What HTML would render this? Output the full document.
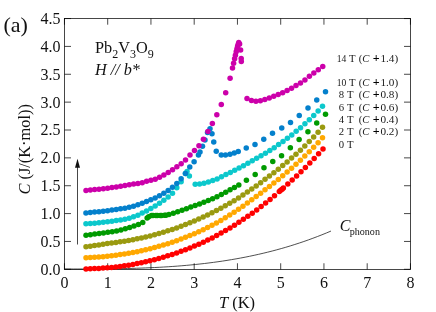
<!DOCTYPE html>
<html><head><meta charset="utf-8"><title>Pb2V3O9 specific heat</title>
<style>html,body{margin:0;padding:0;background:#fff;width:436px;height:312px;overflow:hidden;font-family:"Liberation Serif",serif}</style></head>
<body>
<svg width="436" height="312" viewBox="0 0 436 312" style="position:absolute;left:0;top:0">
<rect width="436" height="312" fill="#fff"/>
<polyline points="64.30,269.00 68.82,269.00 73.34,269.00 77.86,269.00 82.38,268.99 86.90,268.98 91.42,268.96 95.94,268.94 100.46,268.91 104.98,268.87 109.50,268.82 114.02,268.75 118.54,268.68 123.06,268.59 127.58,268.49 132.10,268.38 136.62,268.24 141.14,268.09 145.66,267.92 150.18,267.73 154.70,267.52 159.22,267.29 163.74,267.03 168.26,266.75 172.78,266.45 177.30,266.11 181.82,265.75 186.34,265.36 190.86,264.94 195.38,264.49 199.90,264.01 204.42,263.50 208.94,262.95 213.46,262.36 217.98,261.74 222.50,261.08 227.02,260.38 231.54,259.64 236.06,258.86 240.58,258.04 245.10,257.18 249.62,256.27 254.14,255.31 258.65,254.31 263.17,253.26 267.69,252.17 272.21,251.02 276.73,249.82 281.25,248.57 285.77,247.27 290.29,245.91 294.81,244.49 299.33,243.02 303.85,241.50 308.37,239.91 312.89,238.26 317.41,236.56 321.93,234.79 326.45,232.96 330.97,231.06" fill="none" stroke="#222" stroke-width="0.8"/>
<g stroke="#000" stroke-width="0.72" fill="none">
<rect x="64.5" y="18.5" width="346.0" height="250.95"/>
<line x1="64.45" y1="269.45" x2="64.45" y2="263.25"/>
<line x1="64.45" y1="18.5" x2="64.45" y2="24.7"/>
<line x1="107.70" y1="269.45" x2="107.70" y2="263.25"/>
<line x1="107.70" y1="18.5" x2="107.70" y2="24.7"/>
<line x1="150.95" y1="269.45" x2="150.95" y2="263.25"/>
<line x1="150.95" y1="18.5" x2="150.95" y2="24.7"/>
<line x1="194.20" y1="269.45" x2="194.20" y2="263.25"/>
<line x1="194.20" y1="18.5" x2="194.20" y2="24.7"/>
<line x1="237.45" y1="269.45" x2="237.45" y2="263.25"/>
<line x1="237.45" y1="18.5" x2="237.45" y2="24.7"/>
<line x1="280.70" y1="269.45" x2="280.70" y2="263.25"/>
<line x1="280.70" y1="18.5" x2="280.70" y2="24.7"/>
<line x1="323.95" y1="269.45" x2="323.95" y2="263.25"/>
<line x1="323.95" y1="18.5" x2="323.95" y2="24.7"/>
<line x1="367.20" y1="269.45" x2="367.20" y2="263.25"/>
<line x1="367.20" y1="18.5" x2="367.20" y2="24.7"/>
<line x1="410.45" y1="269.45" x2="410.45" y2="263.25"/>
<line x1="410.45" y1="18.5" x2="410.45" y2="24.7"/>
<line x1="64.5" y1="269.30" x2="71.0" y2="269.30"/>
<line x1="410.5" y1="269.30" x2="404.0" y2="269.30"/>
<line x1="64.5" y1="241.44" x2="71.0" y2="241.44"/>
<line x1="410.5" y1="241.44" x2="404.0" y2="241.44"/>
<line x1="64.5" y1="213.58" x2="71.0" y2="213.58"/>
<line x1="410.5" y1="213.58" x2="404.0" y2="213.58"/>
<line x1="64.5" y1="185.72" x2="71.0" y2="185.72"/>
<line x1="410.5" y1="185.72" x2="404.0" y2="185.72"/>
<line x1="64.5" y1="157.86" x2="71.0" y2="157.86"/>
<line x1="410.5" y1="157.86" x2="404.0" y2="157.86"/>
<line x1="64.5" y1="130.00" x2="71.0" y2="130.00"/>
<line x1="410.5" y1="130.00" x2="404.0" y2="130.00"/>
<line x1="64.5" y1="102.14" x2="71.0" y2="102.14"/>
<line x1="410.5" y1="102.14" x2="404.0" y2="102.14"/>
<line x1="64.5" y1="74.28" x2="71.0" y2="74.28"/>
<line x1="410.5" y1="74.28" x2="404.0" y2="74.28"/>
<line x1="64.5" y1="46.42" x2="71.0" y2="46.42"/>
<line x1="410.5" y1="46.42" x2="404.0" y2="46.42"/>
<line x1="64.5" y1="18.56" x2="71.0" y2="18.56"/>
<line x1="410.5" y1="18.56" x2="404.0" y2="18.56"/>
<line x1="77.5" y1="244.5" x2="77.5" y2="166"/>
</g>
<path d="M77.5 158.8 L80 167.8 L75 167.8 Z" fill="#111"/>
<g fill="#ff0000">
<circle cx="86.00" cy="268.93" r="2.75"/>
<circle cx="90.26" cy="268.79" r="2.75"/>
<circle cx="94.52" cy="268.61" r="2.75"/>
<circle cx="98.78" cy="268.38" r="2.75"/>
<circle cx="103.04" cy="268.10" r="2.75"/>
<circle cx="107.30" cy="267.77" r="2.75"/>
<circle cx="111.56" cy="267.39" r="2.75"/>
<circle cx="115.82" cy="266.95" r="2.75"/>
<circle cx="120.08" cy="266.46" r="2.75"/>
<circle cx="124.34" cy="265.84" r="2.75"/>
<circle cx="128.60" cy="265.14" r="2.75"/>
<circle cx="132.86" cy="264.38" r="2.75"/>
<circle cx="137.12" cy="263.57" r="2.75"/>
<circle cx="141.38" cy="262.69" r="2.75"/>
<circle cx="145.64" cy="261.75" r="2.75"/>
<circle cx="149.90" cy="260.75" r="2.75"/>
<circle cx="154.35" cy="259.63" r="2.75"/>
<circle cx="158.80" cy="258.44" r="2.75"/>
<circle cx="163.25" cy="257.18" r="2.75"/>
<circle cx="167.70" cy="255.84" r="2.75"/>
<circle cx="172.15" cy="254.42" r="2.75"/>
<circle cx="176.60" cy="252.92" r="2.75"/>
<circle cx="181.05" cy="251.35" r="2.75"/>
<circle cx="185.50" cy="249.69" r="2.75"/>
<circle cx="189.95" cy="247.94" r="2.75"/>
<circle cx="194.40" cy="246.12" r="2.75"/>
<circle cx="198.85" cy="244.20" r="2.75"/>
<circle cx="203.30" cy="242.20" r="2.75"/>
<circle cx="207.75" cy="240.10" r="2.75"/>
<circle cx="212.20" cy="237.90" r="2.75"/>
<circle cx="216.65" cy="235.55" r="2.75"/>
<circle cx="221.10" cy="233.10" r="2.75"/>
<circle cx="225.55" cy="230.55" r="2.75"/>
<circle cx="230.00" cy="227.90" r="2.75"/>
<circle cx="234.45" cy="225.16" r="2.75"/>
<circle cx="238.90" cy="222.31" r="2.75"/>
<circle cx="243.35" cy="219.36" r="2.75"/>
<circle cx="247.80" cy="216.31" r="2.75"/>
<circle cx="252.25" cy="213.15" r="2.75"/>
<circle cx="256.70" cy="209.89" r="2.75"/>
<circle cx="261.15" cy="206.51" r="2.75"/>
<circle cx="265.60" cy="203.03" r="2.75"/>
<circle cx="270.05" cy="199.43" r="2.75"/>
<circle cx="274.50" cy="195.72" r="2.75"/>
<circle cx="279.30" cy="191.59" r="2.75"/>
<circle cx="280.70" cy="190.37" r="2.75"/>
<circle cx="282.10" cy="189.15" r="2.75"/>
<circle cx="283.40" cy="188.01" r="2.75"/>
<circle cx="287.80" cy="184.07" r="2.75"/>
<circle cx="292.20" cy="180.09" r="2.75"/>
<circle cx="296.60" cy="176.01" r="2.75"/>
<circle cx="301.00" cy="171.82" r="2.75"/>
<circle cx="305.40" cy="167.50" r="2.75"/>
<circle cx="309.80" cy="163.07" r="2.75"/>
<circle cx="314.20" cy="158.50" r="2.75"/>
<circle cx="318.60" cy="153.82" r="2.75"/>
<circle cx="323.00" cy="148.93" r="2.75"/>
</g>
<g fill="#ffa800">
<circle cx="86.00" cy="257.85" r="2.75"/>
<circle cx="90.26" cy="257.62" r="2.75"/>
<circle cx="94.53" cy="257.34" r="2.75"/>
<circle cx="98.79" cy="257.01" r="2.75"/>
<circle cx="103.06" cy="256.64" r="2.75"/>
<circle cx="107.32" cy="256.21" r="2.75"/>
<circle cx="111.59" cy="255.73" r="2.75"/>
<circle cx="115.85" cy="255.20" r="2.75"/>
<circle cx="120.11" cy="254.62" r="2.75"/>
<circle cx="124.38" cy="253.98" r="2.75"/>
<circle cx="128.64" cy="253.28" r="2.75"/>
<circle cx="132.91" cy="252.49" r="2.75"/>
<circle cx="137.17" cy="251.65" r="2.75"/>
<circle cx="141.44" cy="250.73" r="2.75"/>
<circle cx="145.70" cy="249.76" r="2.75"/>
<circle cx="150.12" cy="248.68" r="2.75"/>
<circle cx="154.54" cy="247.54" r="2.75"/>
<circle cx="158.96" cy="246.32" r="2.75"/>
<circle cx="163.38" cy="245.02" r="2.75"/>
<circle cx="167.80" cy="243.65" r="2.75"/>
<circle cx="172.22" cy="242.21" r="2.75"/>
<circle cx="176.64" cy="240.68" r="2.75"/>
<circle cx="181.06" cy="239.07" r="2.75"/>
<circle cx="185.48" cy="237.37" r="2.75"/>
<circle cx="189.90" cy="235.58" r="2.75"/>
<circle cx="194.32" cy="233.70" r="2.75"/>
<circle cx="198.74" cy="231.75" r="2.75"/>
<circle cx="203.16" cy="229.70" r="2.75"/>
<circle cx="207.58" cy="227.55" r="2.75"/>
<circle cx="212.00" cy="225.27" r="2.75"/>
<circle cx="216.42" cy="222.89" r="2.75"/>
<circle cx="220.84" cy="220.38" r="2.75"/>
<circle cx="225.26" cy="217.75" r="2.75"/>
<circle cx="229.68" cy="215.01" r="2.75"/>
<circle cx="234.10" cy="212.16" r="2.75"/>
<circle cx="238.52" cy="209.20" r="2.75"/>
<circle cx="242.94" cy="206.15" r="2.75"/>
<circle cx="247.36" cy="203.02" r="2.75"/>
<circle cx="251.78" cy="199.81" r="2.75"/>
<circle cx="256.20" cy="196.55" r="2.75"/>
<circle cx="260.62" cy="193.22" r="2.75"/>
<circle cx="265.04" cy="189.85" r="2.75"/>
<circle cx="269.46" cy="186.42" r="2.75"/>
<circle cx="273.88" cy="182.93" r="2.75"/>
<circle cx="278.30" cy="179.38" r="2.75"/>
<circle cx="282.72" cy="175.74" r="2.75"/>
<circle cx="287.14" cy="172.01" r="2.75"/>
<circle cx="291.56" cy="168.20" r="2.75"/>
<circle cx="295.98" cy="164.30" r="2.75"/>
<circle cx="300.40" cy="160.27" r="2.75"/>
<circle cx="304.82" cy="156.09" r="2.75"/>
<circle cx="309.24" cy="151.77" r="2.75"/>
<circle cx="313.66" cy="147.30" r="2.75"/>
<circle cx="318.08" cy="142.64" r="2.75"/>
<circle cx="322.50" cy="137.81" r="2.75"/>
</g>
<g fill="#9a9a10">
<circle cx="86.00" cy="246.72" r="2.75"/>
<circle cx="90.26" cy="246.16" r="2.75"/>
<circle cx="94.53" cy="245.55" r="2.75"/>
<circle cx="98.79" cy="244.89" r="2.75"/>
<circle cx="103.06" cy="244.19" r="2.75"/>
<circle cx="107.32" cy="243.43" r="2.75"/>
<circle cx="111.59" cy="242.94" r="2.75"/>
<circle cx="115.85" cy="242.41" r="2.75"/>
<circle cx="120.11" cy="241.82" r="2.75"/>
<circle cx="124.38" cy="241.18" r="2.75"/>
<circle cx="128.64" cy="240.48" r="2.75"/>
<circle cx="132.91" cy="239.70" r="2.75"/>
<circle cx="137.17" cy="238.85" r="2.75"/>
<circle cx="141.44" cy="237.94" r="2.75"/>
<circle cx="145.70" cy="236.96" r="2.75"/>
<circle cx="150.12" cy="235.89" r="2.75"/>
<circle cx="154.54" cy="234.74" r="2.75"/>
<circle cx="158.96" cy="233.52" r="2.75"/>
<circle cx="163.38" cy="232.23" r="2.75"/>
<circle cx="167.80" cy="230.86" r="2.75"/>
<circle cx="172.22" cy="229.42" r="2.75"/>
<circle cx="176.64" cy="227.90" r="2.75"/>
<circle cx="181.06" cy="226.29" r="2.75"/>
<circle cx="185.48" cy="224.61" r="2.75"/>
<circle cx="189.90" cy="222.85" r="2.75"/>
<circle cx="194.32" cy="221.00" r="2.75"/>
<circle cx="198.74" cy="219.10" r="2.75"/>
<circle cx="203.16" cy="217.11" r="2.75"/>
<circle cx="207.58" cy="215.04" r="2.75"/>
<circle cx="212.00" cy="212.87" r="2.75"/>
<circle cx="216.42" cy="210.61" r="2.75"/>
<circle cx="220.84" cy="208.26" r="2.75"/>
<circle cx="225.26" cy="205.81" r="2.75"/>
<circle cx="229.68" cy="203.27" r="2.75"/>
<circle cx="234.10" cy="200.63" r="2.75"/>
<circle cx="238.52" cy="197.89" r="2.75"/>
<circle cx="242.94" cy="195.05" r="2.75"/>
<circle cx="247.36" cy="192.10" r="2.75"/>
<circle cx="251.78" cy="189.06" r="2.75"/>
<circle cx="256.20" cy="185.90" r="2.75"/>
<circle cx="260.62" cy="182.64" r="2.75"/>
<circle cx="265.04" cy="179.35" r="2.75"/>
<circle cx="269.46" cy="176.09" r="2.75"/>
<circle cx="273.88" cy="172.71" r="2.75"/>
<circle cx="278.30" cy="169.22" r="2.75"/>
<circle cx="282.72" cy="165.61" r="2.75"/>
<circle cx="287.14" cy="161.89" r="2.75"/>
<circle cx="291.56" cy="158.12" r="2.75"/>
<circle cx="295.98" cy="154.30" r="2.75"/>
<circle cx="300.40" cy="150.23" r="2.75"/>
<circle cx="304.82" cy="145.95" r="2.75"/>
<circle cx="309.24" cy="141.54" r="2.75"/>
<circle cx="313.66" cy="137.01" r="2.75"/>
<circle cx="318.08" cy="132.27" r="2.75"/>
<circle cx="322.50" cy="127.35" r="2.75"/>
</g>
<g fill="#009a00">
<circle cx="86.00" cy="235.20" r="2.75"/>
<circle cx="90.37" cy="234.66" r="2.75"/>
<circle cx="94.73" cy="234.10" r="2.75"/>
<circle cx="99.10" cy="233.51" r="2.75"/>
<circle cx="103.46" cy="232.89" r="2.75"/>
<circle cx="107.83" cy="232.29" r="2.75"/>
<circle cx="112.20" cy="231.65" r="2.75"/>
<circle cx="116.56" cy="230.90" r="2.75"/>
<circle cx="120.93" cy="229.94" r="2.75"/>
<circle cx="125.29" cy="228.71" r="2.75"/>
<circle cx="129.66" cy="227.39" r="2.75"/>
<circle cx="134.03" cy="225.96" r="2.75"/>
<circle cx="138.39" cy="224.53" r="2.75"/>
<circle cx="142.76" cy="222.42" r="2.75"/>
<circle cx="147.12" cy="218.06" r="2.75"/>
<circle cx="148.68" cy="216.83" r="2.75"/>
<circle cx="151.49" cy="215.47" r="2.75"/>
<circle cx="153.00" cy="215.40" r="2.75"/>
<circle cx="155.86" cy="215.40" r="2.75"/>
<circle cx="157.33" cy="215.40" r="2.75"/>
<circle cx="160.22" cy="215.48" r="2.75"/>
<circle cx="161.66" cy="215.50" r="2.75"/>
<circle cx="164.59" cy="215.33" r="2.75"/>
<circle cx="165.98" cy="215.16" r="2.75"/>
<circle cx="168.95" cy="214.55" r="2.75"/>
<circle cx="173.32" cy="213.22" r="2.75"/>
<circle cx="177.69" cy="211.82" r="2.75"/>
<circle cx="182.05" cy="210.34" r="2.75"/>
<circle cx="186.42" cy="208.77" r="2.75"/>
<circle cx="190.78" cy="207.11" r="2.75"/>
<circle cx="195.15" cy="205.53" r="2.75"/>
<circle cx="199.52" cy="203.93" r="2.75"/>
<circle cx="203.88" cy="202.27" r="2.75"/>
<circle cx="208.25" cy="200.55" r="2.75"/>
<circle cx="212.61" cy="198.70" r="2.75"/>
<circle cx="216.98" cy="196.63" r="2.75"/>
<circle cx="221.35" cy="194.41" r="2.75"/>
<circle cx="225.71" cy="192.13" r="2.75"/>
<circle cx="230.08" cy="189.79" r="2.75"/>
<circle cx="234.44" cy="187.39" r="2.75"/>
<circle cx="238.81" cy="184.96" r="2.75"/>
<circle cx="246.40" cy="180.20" r="2.75"/>
<circle cx="255.19" cy="174.61" r="2.75"/>
<circle cx="263.98" cy="167.82" r="2.75"/>
<circle cx="272.77" cy="161.48" r="2.75"/>
<circle cx="281.56" cy="155.64" r="2.75"/>
<circle cx="290.35" cy="147.64" r="2.75"/>
<circle cx="299.14" cy="139.60" r="2.75"/>
<circle cx="307.93" cy="131.82" r="2.75"/>
<circle cx="316.72" cy="123.03" r="2.75"/>
<circle cx="325.51" cy="114.24" r="2.75"/>
</g>
<g fill="#0cc8cc">
<circle cx="85.94" cy="223.80" r="2.75"/>
<circle cx="90.26" cy="223.53" r="2.75"/>
<circle cx="94.59" cy="223.20" r="2.75"/>
<circle cx="98.92" cy="222.81" r="2.75"/>
<circle cx="103.24" cy="222.37" r="2.75"/>
<circle cx="107.57" cy="221.84" r="2.75"/>
<circle cx="111.90" cy="221.24" r="2.75"/>
<circle cx="116.22" cy="220.59" r="2.75"/>
<circle cx="120.55" cy="219.93" r="2.75"/>
<circle cx="124.88" cy="219.23" r="2.75"/>
<circle cx="129.20" cy="218.29" r="2.75"/>
<circle cx="133.53" cy="216.85" r="2.75"/>
<circle cx="137.86" cy="215.13" r="2.75"/>
<circle cx="142.19" cy="213.10" r="2.75"/>
<circle cx="146.51" cy="210.91" r="2.75"/>
<circle cx="150.84" cy="208.53" r="2.75"/>
<circle cx="155.17" cy="205.93" r="2.75"/>
<circle cx="159.49" cy="203.16" r="2.75"/>
<circle cx="163.82" cy="200.24" r="2.75"/>
<circle cx="168.15" cy="197.04" r="2.75"/>
<circle cx="172.48" cy="193.15" r="2.75"/>
<circle cx="176.80" cy="187.81" r="2.75"/>
<circle cx="181.13" cy="181.82" r="2.75"/>
<circle cx="185.46" cy="173.52" r="2.75"/>
<circle cx="187.00" cy="171.60" r="2.75"/>
<circle cx="189.40" cy="176.00" r="2.75"/>
<circle cx="195.19" cy="184.20" r="2.75"/>
<circle cx="199.58" cy="184.03" r="2.75"/>
<circle cx="203.97" cy="183.29" r="2.75"/>
<circle cx="208.36" cy="182.06" r="2.75"/>
<circle cx="212.75" cy="180.61" r="2.75"/>
<circle cx="217.14" cy="178.88" r="2.75"/>
<circle cx="221.53" cy="176.75" r="2.75"/>
<circle cx="225.92" cy="174.55" r="2.75"/>
<circle cx="230.31" cy="172.44" r="2.75"/>
<circle cx="234.70" cy="170.28" r="2.75"/>
<circle cx="239.09" cy="168.05" r="2.75"/>
<circle cx="243.48" cy="165.71" r="2.75"/>
<circle cx="247.87" cy="163.21" r="2.75"/>
<circle cx="252.26" cy="160.67" r="2.75"/>
<circle cx="256.65" cy="158.16" r="2.75"/>
<circle cx="261.04" cy="155.66" r="2.75"/>
<circle cx="265.43" cy="153.21" r="2.75"/>
<circle cx="269.82" cy="150.58" r="2.75"/>
<circle cx="274.21" cy="147.66" r="2.75"/>
<circle cx="278.60" cy="144.60" r="2.75"/>
<circle cx="282.99" cy="141.54" r="2.75"/>
<circle cx="287.38" cy="138.34" r="2.75"/>
<circle cx="291.77" cy="134.91" r="2.75"/>
<circle cx="296.16" cy="131.32" r="2.75"/>
<circle cx="300.55" cy="127.64" r="2.75"/>
<circle cx="304.94" cy="123.80" r="2.75"/>
<circle cx="309.33" cy="119.78" r="2.75"/>
<circle cx="313.72" cy="115.53" r="2.75"/>
<circle cx="318.11" cy="111.02" r="2.75"/>
<circle cx="322.50" cy="106.25" r="2.75"/>
</g>
<g fill="#0480cc">
<circle cx="85.94" cy="212.91" r="2.75"/>
<circle cx="90.26" cy="212.52" r="2.75"/>
<circle cx="94.59" cy="212.10" r="2.75"/>
<circle cx="98.92" cy="211.64" r="2.75"/>
<circle cx="103.24" cy="211.16" r="2.75"/>
<circle cx="107.57" cy="210.63" r="2.75"/>
<circle cx="111.90" cy="210.07" r="2.75"/>
<circle cx="116.22" cy="209.47" r="2.75"/>
<circle cx="120.55" cy="208.85" r="2.75"/>
<circle cx="124.88" cy="208.18" r="2.75"/>
<circle cx="129.20" cy="207.33" r="2.75"/>
<circle cx="133.53" cy="206.16" r="2.75"/>
<circle cx="137.86" cy="204.79" r="2.75"/>
<circle cx="142.19" cy="203.19" r="2.75"/>
<circle cx="146.51" cy="201.55" r="2.75"/>
<circle cx="150.84" cy="199.83" r="2.75"/>
<circle cx="155.17" cy="197.93" r="2.75"/>
<circle cx="159.49" cy="195.78" r="2.75"/>
<circle cx="163.82" cy="193.31" r="2.75"/>
<circle cx="168.15" cy="190.45" r="2.75"/>
<circle cx="172.48" cy="187.20" r="2.75"/>
<circle cx="176.80" cy="183.49" r="2.75"/>
<circle cx="181.13" cy="178.81" r="2.75"/>
<circle cx="185.46" cy="173.52" r="2.75"/>
<circle cx="189.78" cy="167.09" r="2.75"/>
<circle cx="194.11" cy="161.73" r="2.75"/>
<circle cx="198.44" cy="154.95" r="2.75"/>
<circle cx="200.00" cy="152.00" r="2.75"/>
<circle cx="202.50" cy="146.25" r="2.75"/>
<circle cx="205.00" cy="140.00" r="2.75"/>
<circle cx="207.50" cy="132.50" r="2.75"/>
<circle cx="210.00" cy="128.75" r="2.75"/>
<circle cx="212.00" cy="133.75" r="2.75"/>
<circle cx="213.75" cy="142.00" r="2.75"/>
<circle cx="216.25" cy="151.25" r="2.75"/>
<circle cx="221.25" cy="155.00" r="2.75"/>
<circle cx="225.50" cy="155.00" r="2.75"/>
<circle cx="230.00" cy="154.25" r="2.75"/>
<circle cx="234.25" cy="153.00" r="2.75"/>
<circle cx="238.25" cy="151.50" r="2.75"/>
<circle cx="246.25" cy="148.00" r="2.75"/>
<circle cx="255.00" cy="144.50" r="2.75"/>
<circle cx="263.75" cy="139.25" r="2.75"/>
<circle cx="272.50" cy="133.25" r="2.75"/>
<circle cx="281.75" cy="128.00" r="2.75"/>
<circle cx="290.50" cy="122.50" r="2.75"/>
<circle cx="299.25" cy="115.50" r="2.75"/>
<circle cx="308.00" cy="108.00" r="2.75"/>
<circle cx="316.75" cy="100.00" r="2.75"/>
<circle cx="325.50" cy="91.80" r="2.75"/>
</g>
<g fill="#cc00aa">
<circle cx="86.00" cy="190.40" r="2.75"/>
<circle cx="90.33" cy="190.01" r="2.75"/>
<circle cx="94.65" cy="189.59" r="2.75"/>
<circle cx="98.98" cy="189.14" r="2.75"/>
<circle cx="103.31" cy="188.65" r="2.75"/>
<circle cx="107.63" cy="188.13" r="2.75"/>
<circle cx="111.96" cy="187.56" r="2.75"/>
<circle cx="116.29" cy="186.96" r="2.75"/>
<circle cx="120.62" cy="186.32" r="2.75"/>
<circle cx="124.94" cy="185.60" r="2.75"/>
<circle cx="129.27" cy="184.85" r="2.75"/>
<circle cx="133.60" cy="184.10" r="2.75"/>
<circle cx="137.92" cy="183.41" r="2.75"/>
<circle cx="142.25" cy="182.63" r="2.75"/>
<circle cx="146.58" cy="181.32" r="2.75"/>
<circle cx="150.91" cy="180.26" r="2.75"/>
<circle cx="155.23" cy="179.25" r="2.75"/>
<circle cx="159.56" cy="177.27" r="2.75"/>
<circle cx="163.89" cy="175.03" r="2.75"/>
<circle cx="168.21" cy="172.57" r="2.75"/>
<circle cx="172.54" cy="169.81" r="2.75"/>
<circle cx="176.87" cy="166.78" r="2.75"/>
<circle cx="181.19" cy="163.67" r="2.75"/>
<circle cx="185.52" cy="160.09" r="2.75"/>
<circle cx="190.00" cy="155.00" r="2.75"/>
<circle cx="194.47" cy="150.55" r="2.75"/>
<circle cx="198.94" cy="145.80" r="2.75"/>
<circle cx="203.41" cy="139.31" r="2.75"/>
<circle cx="207.88" cy="131.46" r="2.75"/>
<circle cx="212.35" cy="123.60" r="2.75"/>
<circle cx="216.82" cy="114.85" r="2.75"/>
<circle cx="221.29" cy="104.40" r="2.75"/>
<circle cx="225.70" cy="92.67" r="2.75"/>
<circle cx="230.10" cy="78.37" r="2.75"/>
<circle cx="232.50" cy="68.00" r="2.75"/>
<circle cx="233.60" cy="63.16" r="2.75"/>
<circle cx="234.60" cy="58.74" r="2.75"/>
<circle cx="235.40" cy="55.25" r="2.75"/>
<circle cx="236.20" cy="51.75" r="2.75"/>
<circle cx="236.90" cy="48.88" r="2.75"/>
<circle cx="237.60" cy="46.30" r="2.75"/>
<circle cx="238.20" cy="44.24" r="2.75"/>
<circle cx="238.75" cy="42.50" r="2.75"/>
<circle cx="239.60" cy="44.00" r="2.75"/>
<circle cx="240.60" cy="50.00" r="2.75"/>
<circle cx="241.20" cy="58.50" r="2.75"/>
<circle cx="241.30" cy="61.50" r="2.75"/>
<circle cx="247.00" cy="98.50" r="2.75"/>
<circle cx="251.46" cy="100.59" r="2.75"/>
<circle cx="255.91" cy="101.25" r="2.75"/>
<circle cx="260.37" cy="100.74" r="2.75"/>
<circle cx="264.82" cy="99.48" r="2.75"/>
<circle cx="269.28" cy="98.00" r="2.75"/>
<circle cx="273.74" cy="96.37" r="2.75"/>
<circle cx="278.19" cy="94.57" r="2.75"/>
<circle cx="282.65" cy="92.66" r="2.75"/>
<circle cx="287.10" cy="90.57" r="2.75"/>
<circle cx="291.56" cy="88.34" r="2.75"/>
<circle cx="296.01" cy="85.54" r="2.75"/>
<circle cx="300.47" cy="83.02" r="2.75"/>
<circle cx="304.93" cy="80.05" r="2.75"/>
<circle cx="309.38" cy="76.34" r="2.75"/>
<circle cx="313.84" cy="72.94" r="2.75"/>
<circle cx="318.29" cy="69.78" r="2.75"/>
<circle cx="322.75" cy="66.40" r="2.75"/>
</g>
<g font-family="'Liberation Serif', serif" fill="#111" style="filter:grayscale(1)">
<text x="64.45" y="288" font-size="16" text-anchor="middle">0</text>
<text x="107.70" y="288" font-size="16" text-anchor="middle">1</text>
<text x="150.95" y="288" font-size="16" text-anchor="middle">2</text>
<text x="194.20" y="288" font-size="16" text-anchor="middle">3</text>
<text x="237.45" y="288" font-size="16" text-anchor="middle">4</text>
<text x="280.70" y="288" font-size="16" text-anchor="middle">5</text>
<text x="323.95" y="288" font-size="16" text-anchor="middle">6</text>
<text x="367.20" y="288" font-size="16" text-anchor="middle">7</text>
<text x="410.45" y="288" font-size="16" text-anchor="middle">8</text>
<text x="60.6" y="274.70" font-size="16" text-anchor="end">0.0</text>
<text x="60.6" y="246.84" font-size="16" text-anchor="end">0.5</text>
<text x="60.6" y="218.98" font-size="16" text-anchor="end">1.0</text>
<text x="60.6" y="191.12" font-size="16" text-anchor="end">1.5</text>
<text x="60.6" y="163.26" font-size="16" text-anchor="end">2.0</text>
<text x="60.6" y="135.40" font-size="16" text-anchor="end">2.5</text>
<text x="60.6" y="107.54" font-size="16" text-anchor="end">3.0</text>
<text x="60.6" y="79.68" font-size="16" text-anchor="end">3.5</text>
<text x="60.6" y="51.82" font-size="16" text-anchor="end">4.0</text>
<text x="60.6" y="23.96" font-size="16" text-anchor="end">4.5</text>
<text x="3.5" y="31.5" font-size="22">(a)</text>
<text x="237" y="307.9" font-size="16.5" text-anchor="middle"><tspan font-style="italic">T</tspan> (K)</text>
<text transform="translate(30.1,149.3) rotate(-90)" font-size="16.4" text-anchor="middle"><tspan font-style="italic">C</tspan> (J/(K·mol))</text>
<text x="95" y="52.6" font-size="16.3">Pb<tspan font-size="12" dy="5">2</tspan><tspan dy="-5">V</tspan><tspan font-size="12" dy="5">3</tspan><tspan dy="-5">O</tspan><tspan font-size="12" dy="5">9</tspan></text>
<text x="95" y="75" font-size="16.2" font-style="italic">H // b*</text>
<text x="339.7" y="231.1" font-size="16"><tspan font-style="italic">C</tspan><tspan font-size="10.1" dy="4.1" dx="-0.7">phonon</tspan></text>
<g fill="#1a1a1a">
<text x="336.8" y="62.3" font-size="10.7" textLength="9.6" lengthAdjust="spacingAndGlyphs">14</text>
<text x="349.1" y="62.3" font-size="10.7">T</text>
<text x="358.8" y="62.3" font-size="10.7">(<tspan font-style="italic">C</tspan> <tspan font-size="12" font-weight="bold" dy="0.1" dx="0.5" fill="#000">+</tspan></text>
<text x="398.2" y="62.3" font-size="11.2" text-anchor="end">1.4)</text>
<text x="336.8" y="86.0" font-size="10.7" textLength="9.6" lengthAdjust="spacingAndGlyphs">10</text>
<text x="349.1" y="86.0" font-size="10.7">T</text>
<text x="358.8" y="86.0" font-size="10.7">(<tspan font-style="italic">C</tspan> <tspan font-size="12" font-weight="bold" dy="0.1" dx="0.5" fill="#000">+</tspan></text>
<text x="398.2" y="86.0" font-size="11.2" text-anchor="end">1.0)</text>
<text x="338.8" y="98.2" font-size="10.7">8</text>
<text x="346.9" y="98.2" font-size="10.7">T</text>
<text x="358.8" y="98.2" font-size="10.7">(<tspan font-style="italic">C</tspan> <tspan font-size="12" font-weight="bold" dy="0.1" dx="0.5" fill="#000">+</tspan></text>
<text x="398.2" y="98.2" font-size="11.2" text-anchor="end">0.8)</text>
<text x="338.8" y="110.5" font-size="10.7">6</text>
<text x="346.9" y="110.5" font-size="10.7">T</text>
<text x="358.8" y="110.5" font-size="10.7">(<tspan font-style="italic">C</tspan> <tspan font-size="12" font-weight="bold" dy="0.1" dx="0.5" fill="#000">+</tspan></text>
<text x="398.2" y="110.5" font-size="11.2" text-anchor="end">0.6)</text>
<text x="338.8" y="123.0" font-size="10.7">4</text>
<text x="346.9" y="123.0" font-size="10.7">T</text>
<text x="358.8" y="123.0" font-size="10.7">(<tspan font-style="italic">C</tspan> <tspan font-size="12" font-weight="bold" dy="0.1" dx="0.5" fill="#000">+</tspan></text>
<text x="398.2" y="123.0" font-size="11.2" text-anchor="end">0.4)</text>
<text x="338.8" y="135.0" font-size="10.7">2</text>
<text x="346.9" y="135.0" font-size="10.7">T</text>
<text x="358.8" y="135.0" font-size="10.7">(<tspan font-style="italic">C</tspan> <tspan font-size="12" font-weight="bold" dy="0.1" dx="0.5" fill="#000">+</tspan></text>
<text x="398.2" y="135.0" font-size="11.2" text-anchor="end">0.2)</text>
<text x="338.8" y="147.7" font-size="10.7">0</text>
<text x="346.9" y="147.7" font-size="10.7">T</text>
</g>
</g>
</svg>
</body></html>
